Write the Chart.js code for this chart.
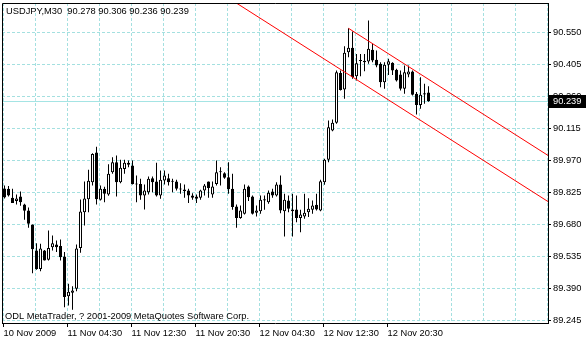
<!DOCTYPE html>
<html><head><meta charset="utf-8">
<script src="https://cdn.jsdelivr.net/npm/chart.js@4/dist/chart.umd.min.js"></script>
<style>html,body{margin:0;padding:0;background:#fff;}#wrap{width:586px;height:340px;position:relative;}</style>
</head><body><div id="wrap"><canvas id="c" width="586" height="340"></canvas></div>
<script>
// ---- data ----
const symbolTitle = 'USDJPY,M30';
const openP = [89.843,89.842,89.801,89.787,89.807,89.771,89.743,89.680,89.562,89.478,
89.562,89.520,89.577,89.589,89.583,89.535,89.355,89.371,89.389,89.573,
89.736,89.795,89.872,90.006,89.792,89.842,89.816,89.917,89.962,89.872,
89.932,89.960,89.947,89.866,89.864,89.811,89.826,89.890,89.875,89.811,
89.879,89.890,89.876,89.875,89.840,89.839,89.834,89.811,89.807,89.801,
89.834,89.875,89.816,89.864,89.920,89.912,89.894,89.842,89.762,89.710,
89.729,89.852,89.807,89.733,89.740,89.789,89.781,89.830,89.811,89.861,
89.740,89.789,89.748,89.748,89.710,89.716,89.736,89.747,89.769,89.743,
89.872,89.973,90.106,90.141,90.367,90.292,90.461,90.481,90.352,90.421,
90.422,90.419,90.472,90.426,90.408,90.325,90.404,90.413,90.381,90.360,
90.295,90.360,90.373,90.272,90.222,90.269,90.278];
const highP = [89.857,89.854,89.842,89.816,89.830,89.774,89.757,89.680,89.595,89.593,
89.565,89.653,89.630,89.608,89.612,89.555,89.411,89.400,89.589,89.793,
89.875,89.928,90.003,90.032,89.857,89.851,89.953,89.985,89.993,89.973,
89.973,89.970,89.970,89.902,89.887,89.861,89.897,89.897,89.960,89.925,
89.925,89.910,89.887,89.883,89.867,89.861,89.842,89.822,89.816,89.837,
89.864,89.875,89.875,89.970,89.940,89.917,89.962,89.910,89.771,89.766,
89.861,89.857,89.811,89.766,89.811,89.811,89.834,89.842,89.872,89.902,
89.819,89.811,89.819,89.811,89.747,89.819,89.799,89.789,89.819,89.883,
89.978,90.151,90.156,90.378,90.378,90.488,90.569,90.555,90.453,90.453,
90.453,90.604,90.499,90.468,90.415,90.415,90.431,90.415,90.386,90.378,
90.400,90.400,90.378,90.280,90.347,90.318,90.306];
const lowP = [89.798,89.807,89.778,89.771,89.765,89.701,89.665,89.459,89.475,89.468,
89.517,89.517,89.562,89.555,89.517,89.305,89.313,89.294,89.378,89.552,
89.676,89.736,89.857,89.771,89.789,89.781,89.810,89.910,89.807,89.867,
89.910,89.940,89.861,89.781,89.792,89.748,89.816,89.826,89.807,89.797,
89.861,89.857,89.826,89.834,89.819,89.801,89.777,89.792,89.777,89.792,
89.811,89.801,89.801,89.857,89.857,89.887,89.819,89.747,89.665,89.706,
89.725,89.786,89.725,89.716,89.729,89.747,89.774,89.801,89.807,89.731,
89.626,89.736,89.626,89.690,89.645,89.706,89.714,89.729,89.743,89.740,
89.860,89.962,90.103,90.136,90.287,90.250,90.438,90.340,90.333,90.352,
90.375,90.408,90.415,90.393,90.302,90.295,90.358,90.358,90.328,90.287,
90.272,90.347,90.265,90.178,90.204,90.227,90.236];
const closeP = [89.802,89.811,89.778,89.798,89.781,89.742,89.683,89.568,89.478,89.571,
89.517,89.574,89.595,89.577,89.532,89.351,89.375,89.381,89.571,89.739,
89.798,89.878,90.000,89.795,89.842,89.819,89.910,89.962,89.872,89.937,
89.960,89.951,89.864,89.861,89.811,89.834,89.887,89.872,89.811,89.883,
89.902,89.872,89.874,89.842,89.839,89.831,89.811,89.801,89.797,89.834,
89.857,89.845,89.852,89.917,89.917,89.892,89.840,89.759,89.710,89.743,
89.842,89.804,89.729,89.743,89.792,89.795,89.824,89.811,89.861,89.743,
89.792,89.751,89.740,89.710,89.725,89.733,89.751,89.766,89.748,89.876,
89.973,90.121,90.141,90.370,90.290,90.458,90.481,90.347,90.411,90.423,
90.415,90.476,90.423,90.400,90.325,90.404,90.420,90.378,90.333,90.295,
90.370,90.373,90.268,90.222,90.268,90.275,90.239];
const xTickLabels = ['10 Nov 2009','11 Nov 04:30','11 Nov 12:30','11 Nov 20:30','12 Nov 04:30','12 Nov 12:30','12 Nov 20:30'];
const yTickValues = [90.550,90.405,90.260,90.115,89.970,89.825,89.680,89.535,89.390,89.245];
// equidistant channel: [bar index, price]
const channelUpper = [[86, 90.569],[135.875, 89.993]];
const channelLower = [[40, 90.891],[135.875, 89.784]];
const copyrightText = 'ODL MetaTrader, ? 2001-2009 MetaQuotes Software Corp.';

// ---- style ----
const GRID = '#a4e0e0';
const PRICE_LINE = '#a4e4e4';
const FAMILY = '"Liberation Sans", Arial, sans-serif';
const FSIZE = 9.3;
const BARS_PER_LABEL = 16, BARS_PER_GRID = 8;

const n = closeP.length;
const bodies = [], wicks = [];
for (let i = 0; i < n; i++) {
  bodies.push({x: i, y: [openP[i], closeP[i]]});
  wicks.push({x: i, y: [lowP[i], highP[i]]});
}
const bull = openP.map((o, i) => closeP[i] >= o);
const lastClose = closeP[n - 1];

const mt4 = {
  id: 'mt4',
  beforeDatasetsDraw(chart) {
    const {ctx, chartArea: a, scales: {y}} = chart;
    const py = Math.floor(y.getPixelForValue(lastClose)) + 0.5;
    ctx.save();
    ctx.strokeStyle = PRICE_LINE; ctx.lineWidth = 1;
    ctx.beginPath(); ctx.moveTo(a.left, py); ctx.lineTo(a.right, py); ctx.stroke();
    ctx.restore();
  },
  afterDraw(chart) {
    const {ctx, chartArea: a, scales: {y}} = chart;
    ctx.save();
    ctx.strokeStyle = '#000'; ctx.lineWidth = 1;
    ctx.beginPath();
    ctx.moveTo(a.left + 0.5, a.bottom); ctx.lineTo(a.left + 0.5, a.top + 0.5); ctx.lineTo(a.right, a.top + 0.5);
    ctx.stroke();
    // price label
    const py = Math.floor(y.getPixelForValue(lastClose));
    ctx.fillStyle = '#000';
    ctx.fillRect(a.right + 1, py - 6, 586 - a.right - 1, 13);
    ctx.fillStyle = '#fff';
    ctx.font = FSIZE + 'px ' + FAMILY;
    ctx.textBaseline = 'middle';
    ctx.fillText(lastClose.toFixed(3), a.right + 5, py + 0.5);
    // header & copyright
    ctx.fillStyle = '#000';
    ctx.textBaseline = 'alphabetic';
    const hdr = symbolTitle + '  ' + [openP[n-1], highP[n-1], lowP[n-1], closeP[n-1]].map(v => v.toFixed(3)).join(' ');
    ctx.fillText(hdr, 6, 13.5);
    ctx.fillText(copyrightText, 5, 318.5);
    ctx.restore();
  }
};

new Chart(document.getElementById('c'), {
  type: 'bar',
  data: {
    datasets: [
      {type: 'line', data: channelUpper.map(p => ({x: p[0], y: p[1]})), borderColor: '#ff0000', borderWidth: 1, pointRadius: 0, order: -1},
      {type: 'line', data: channelLower.map(p => ({x: p[0], y: p[1]})), borderColor: '#ff0000', borderWidth: 1, pointRadius: 0, order: -1},
      {type: 'bar', data: bodies, grouped: false, barThickness: 3, maxBarThickness: 3, inflateAmount: 0,
       backgroundColor: c => bull[c.dataIndex] ? '#ffffff' : '#000000', borderColor: '#000', borderWidth: 1,
       borderSkipped: false, minBarLength: 1, order: 0},
      {type: 'bar', data: wicks, grouped: false, barThickness: 1, maxBarThickness: 1, inflateAmount: 0,
       backgroundColor: '#000', borderWidth: 0, order: 1}
    ]
  },
  options: {
    responsive: false, animation: false, devicePixelRatio: 1,
    layout: {padding: {left: 2, top: 3, right: 0, bottom: 0}},
    plugins: {legend: {display: false}, tooltip: {enabled: false}},
    scales: {
      x: {
        type: 'linear', position: 'bottom', offset: false, min: -0.625, max: 135.875,
        afterBuildTicks: s => { s.ticks = []; for (let k = 0; k <= 136; k += BARS_PER_GRID) s.ticks.push({value: k - 0.25}); },
        afterFit: s => { s.height = 17; s.paddingLeft = 0; s.paddingRight = 0; },
        ticks: {autoSkip: false, maxRotation: 0, minRotation: 0, align: 'start', padding: 1, color: '#000',
          font: {family: FAMILY, size: FSIZE},
          callback: v => { const k = Math.round(v + 0.25); return (k % BARS_PER_LABEL === 0 && xTickLabels[k / BARS_PER_LABEL]) || ''; }},
        grid: {offset: false, color: GRID, lineWidth: 1, tickLength: 4,
          tickColor: c => { const k = Math.round(c.tick.value + 0.25); return (k % BARS_PER_LABEL === 0 && xTickLabels[k / BARS_PER_LABEL]) ? '#000' : 'rgba(0,0,0,0)'; }},
        border: {display: true, color: '#000', dash: [3, 2]}
      },
      y: {
        type: 'linear', position: 'right', min: 89.2337, max: 90.6837,
        afterBuildTicks: s => { s.ticks = yTickValues.map(v => ({value: v})); },
        afterFit: s => { s.width = 38; s.paddingTop = 0; s.paddingBottom = 0; },
        ticks: {padding: 2, color: '#000', font: {family: FAMILY, size: FSIZE}, callback: v => v.toFixed(3)},
        grid: {color: GRID, lineWidth: 1, tickLength: 3, tickColor: '#000'},
        border: {display: true, color: '#000', dash: [3, 2]}
      }
    }
  },
  plugins: [mt4]
});
</script>
</body></html>
